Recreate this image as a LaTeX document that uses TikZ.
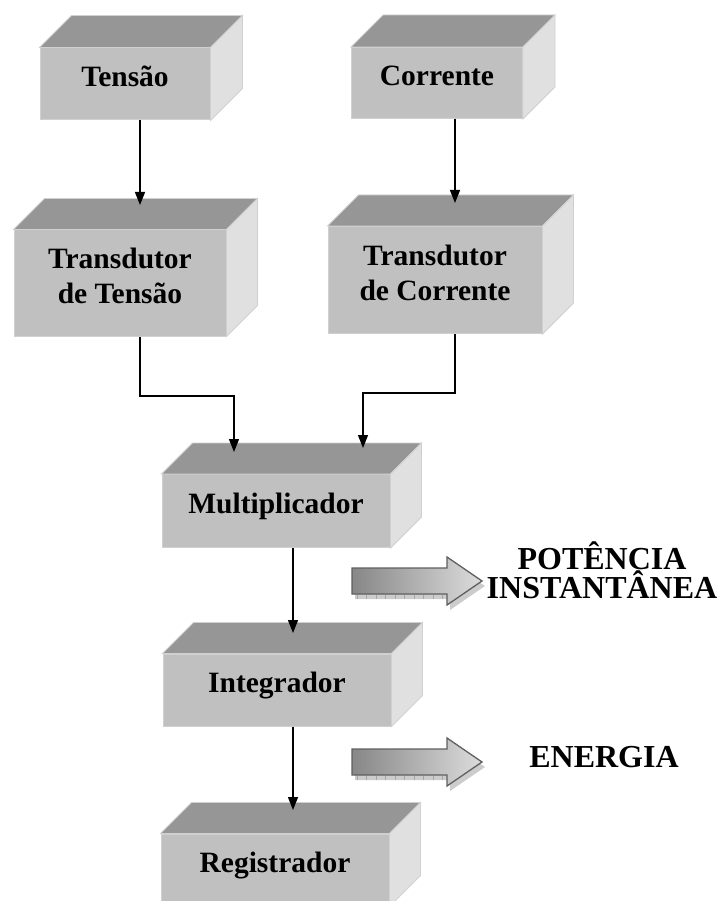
\documentclass[tikz,border=0pt]{standalone}
\usepackage{fontspec}
\setmainfont{Liberation Serif}
\usetikzlibrary{arrows.meta}
\definecolor{frente}{RGB}{192,192,192}
\definecolor{topo}{RGB}{150,150,150}
\definecolor{lado}{RGB}{224,224,224}
\definecolor{borda}{RGB}{208,208,208}
\definecolor{setaesc}{RGB}{135,135,135}
\definecolor{setaclara}{RGB}{220,220,220}
\definecolor{contorno}{RGB}{95,95,95}

\begin{document}
\begin{tikzpicture}[x=1pt,y=-1pt]
	\tikzset{caixa/.style = {fill=frente, draw=borda, line width=1pt, inner sep=0pt, align=center,
			text depth=15pt, font=\fontsize{29.5}{35}\selectfont\bfseries}}
	\tikzset{ligacao/.style = {-{Triangle[length=13pt,width=10pt]}, line width=1.3pt}}
	\tikzset{rotulo/.style = {align=center, font=\fontsize{32}{27}\selectfont\bfseries}}
	\tikzset{bloco/.style = {left color=setaesc, right color=setaclara, draw=contorno, line width=1.3pt, line join=miter}}

	\path[use as bounding box, clip] (0,0) rectangle (717,901);

	\node[caixa, minimum width=170pt, minimum height=72pt] (tensao) at (125,84) {Tensão};
	\node[caixa, minimum width=171pt, minimum height=71pt] (corrente) at (437,83) {Corrente};
	\node[caixa, minimum width=212pt, minimum height=106pt] (ttensao) at (120,283) {Transdutor\\de Tensão};
	\node[caixa, minimum width=214pt, minimum height=107pt] (tcorrente) at (435,280) {Transdutor\\de Corrente};
	\node[caixa, minimum width=228pt, minimum height=73pt] (mult) at (276,511) {Multiplicador};
	\node[caixa, minimum width=228pt, minimum height=72pt] (integ) at (277,690) {Integrador};
	\node[caixa, minimum width=228pt, minimum height=72pt] (reg) at (275,870) {Registrador};

	% faces de cima e do lado
	\foreach \n/\d in {tensao/32,corrente/32,ttensao/31,tcorrente/31,mult/31,integ/31,reg/31} {
		\filldraw[fill=topo, draw=borda, line width=0.8pt] (\n.north west) -- ++(\d,-\d)
			-- ([shift={(\d,-\d)}]\n.north east) -- (\n.north east) -- cycle;
		\filldraw[fill=lado, draw=borda, line width=0.8pt] (\n.north east) -- ++(\d,-\d)
			-- ([shift={(\d,-\d)}]\n.south east) -- (\n.south east) -- cycle;
	}

	\coordinate (e1) at (140,205);
	\coordinate (e2) at (455,203);
	\coordinate (k1) at (234,396);
	\coordinate (e3) at (234,452);
	\coordinate (k2) at (363,393);
	\coordinate (e4) at (363,448);
	\coordinate (e5) at (293,633);
	\coordinate (e6) at (293,810);

	\draw[ligacao] (tensao.south -| e1) -- (e1);
	\draw[ligacao] (corrente.south -| e2) -- (e2);
	\draw[ligacao] (ttensao.south -| e1) |- (k1) -- (e3);
	\draw[ligacao] (tcorrente.south -| e2) |- (k2) -- (e4);
	\draw[ligacao] (mult.south -| e5) -- (e5);
	\draw[ligacao] (integ.south -| e6) -- (e6);

	% setas largas
	\foreach \c in {581,762} {
		\begin{scope}[shift={(0,\c)}]
			\fill[gray!40] (355,-8) -- (450,-8) -- (450,-19) -- (485,5) -- (450,29) -- (450,18) -- (355,18) -- cycle;
			\foreach \t in {0,...,9}
				\draw[gray!70, line width=0.5pt] (357+\t*9.5,14) -- (357+\t*9.5,18);
			\path[bloco] (352,-13) -- (447,-13) -- (447,-24) -- (482,0) -- (447,24) -- (447,13) -- (352,13) -- cycle;
		\end{scope}
	}

	\node[rotulo] (potencia) at (602,570) {POTÊNCIA\\INSTANTÂNEA};
	\node[rotulo, anchor=base] (energia) at (604,767) {ENERGIA};
\end{tikzpicture}
\end{document}
